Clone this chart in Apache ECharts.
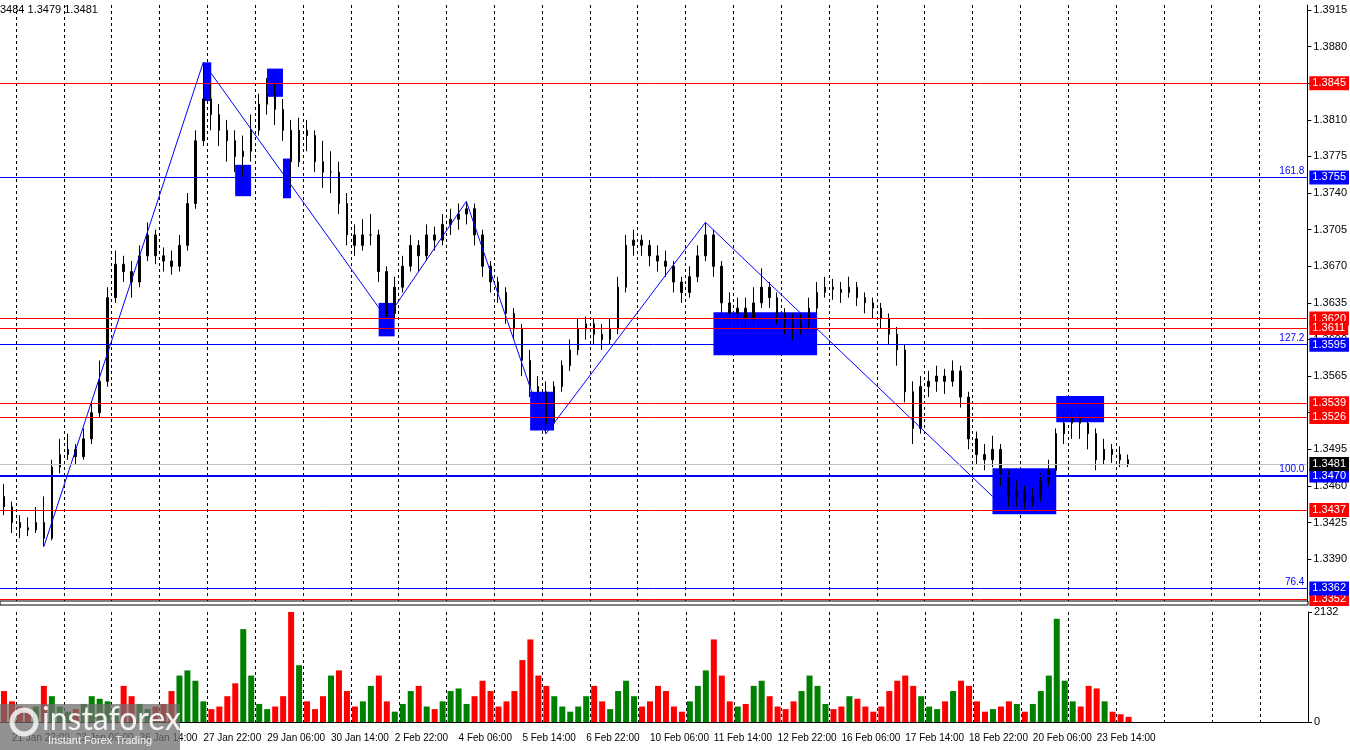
<!DOCTYPE html>
<html>
<head>
<meta charset="utf-8">
<script src="https://cdn.jsdelivr.net/npm/echarts@6/dist/echarts.min.js"></script>
<style>
  html, body { margin: 0; padding: 0; background: #fff; }
  #chart { width: 1350px; height: 750px; }
</style>
</head>
<body>
<div id="chart"></div>
<script>
// closes / highs / lows in pips (1.xxxx)
var closes = [3440,3425,3420,3418,3425,3410,3478,3490,3495,3488,3505,3530,3560,3640,3672,3665,3655,3680,3700,3680,
  3675,3670,3690,3730,3790,3830,3815,3800,3790,3775,3780,3800,3825,3835,3820,3800,3770,3800,3795,3770,
  3760,3760,3730,3700,3690,3700,3700,3665,3625,3650,3670,3690,3680,3700,3695,3710,3715,3720,3725,3700,
  3670,3655,3645,3625,3610,3580,3555,3550,3520,3555,3575,3590,3610,3615,3605,3600,3610,3650,3690,3695,
  3690,3680,3675,3670,3655,3645,3660,3680,3700,3670,3635,3625,3630,3620,3635,3650,3640,3625,3615,3610,
  3615,3630,3645,3650,3648,3645,3650,3640,3635,3630,3620,3605,3590,3550,3515,3555,3560,3565,3560,3570,
  3545,3505,3490,3485,3495,3470,3450,3455,3445,3450,3465,3475,3510,3520,3525,3520,3510,3485,3495,3490,
  3485,3481];
var highs = [3462,3445,3432,3430,3440,3450,3485,3505,3510,3500,3515,3540,3580,3650,3685,3680,3675,3690,3712,3705,
  3688,3685,3700,3740,3800,3865,3845,3825,3810,3800,3795,3815,3835,3850,3845,3830,3810,3812,3810,3800,
  3790,3780,3770,3740,3710,3715,3720,3705,3670,3660,3680,3700,3695,3710,3708,3720,3725,3730,3732,3730,
  3705,3675,3660,3650,3630,3615,3590,3565,3560,3560,3580,3600,3620,3622,3620,3615,3620,3660,3700,3705,
  3700,3695,3690,3685,3675,3660,3670,3690,3712,3705,3675,3645,3640,3640,3650,3668,3655,3645,3630,3625,
  3625,3640,3655,3660,3658,3655,3660,3655,3645,3640,3635,3625,3612,3595,3560,3565,3570,3575,3572,3580,
  3575,3550,3512,3500,3508,3500,3475,3465,3460,3458,3472,3485,3515,3530,3532,3530,3525,3515,3505,3500,
  3498,3490];
var lows = [3432,3415,3410,3412,3415,3402,3408,3472,3485,3480,3485,3500,3525,3555,3635,3655,3640,3650,3675,3672,
  3665,3662,3665,3685,3725,3785,3800,3785,3770,3760,3755,3770,3795,3815,3805,3790,3745,3765,3780,3760,
  3745,3740,3720,3690,3680,3685,3690,3655,3620,3620,3645,3665,3665,3675,3685,3690,3700,3705,3710,3690,
  3660,3645,3635,3615,3600,3565,3545,3540,3510,3515,3550,3570,3585,3600,3595,3590,3595,3605,3645,3680,
  3680,3670,3665,3660,3645,3635,3640,3655,3675,3660,3625,3615,3615,3610,3615,3630,3630,3615,3605,3600,
  3605,3610,3625,3640,3638,3635,3640,3632,3625,3620,3610,3595,3575,3540,3500,3510,3545,3550,3548,3555,
  3535,3495,3480,3475,3478,3460,3440,3440,3438,3440,3445,3460,3470,3500,3505,3505,3495,3475,3480,3482,
  3478,3478];
var firstOpen = 3450;
var volumes = [600,400,300,200,300,700,500,300,200,250,350,500,450,400,300,700,500,350,250,300,
  350,600,900,1000,800,400,250,300,500,750,1800,900,350,250,300,500,2132,1100,400,250,
  500,900,1000,600,300,400,700,900,400,200,350,600,700,300,250,400,600,650,350,500,
  800,600,300,400,600,1200,1600,900,700,500,300,200,300,500,700,400,250,600,800,500,
  300,400,700,600,300,200,400,700,1000,1600,900,400,300,350,700,800,500,300,250,400,
  600,900,700,350,250,300,500,450,300,200,300,600,800,900,700,500,300,250,400,600,
  800,700,400,200,250,300,400,350,200,350,600,900,2000,800,400,300,700,650,400,200,
  150,100];
var timeLabels = ['21 Jan 22:00','23 Jan 06:00','26 Jan 14:00','27 Jan 22:00','29 Jan 06:00','30 Jan 14:00',
  '2 Feb 22:00','4 Feb 06:00','5 Feb 14:00','6 Feb 22:00','10 Feb 06:00','11 Feb 14:00','12 Feb 22:00',
  '16 Feb 06:00','17 Feb 14:00','18 Feb 22:00','20 Feb 06:00','23 Feb 14:00'];
var priceTicks = [1.3915,1.3880,1.3845,1.3810,1.3775,1.3740,1.3705,1.3670,1.3635,1.3600,1.3565,1.3530,1.3495,1.3460,1.3425,1.3390];
// zigzag pivots [bar index, price]
var zigzag = [[5,1.3402],[25,1.3865],[48,1.3620],[58,1.3732],[68,1.3510],[88,1.3712],[124,1.3450]];
// blue zones [fromBar, toBar, top, bottom]
var zones = [[25,26,1.3865,1.3828],[29,31,1.3767,1.3737],[33,35,1.3859,1.3832],[35,36,1.3773,1.3735],
  [47,49,1.3635,1.3603],[66,69,1.3550,1.3513],[89,102,1.3626,1.3585],[124,132,1.3477,1.3433],[132,138,1.3546,1.3521]];
var redLevels = [1.3845,1.3620,1.3611,1.3539,1.3526,1.3437,1.3352];
var blueLevels = [1.3755,1.3595,1.3470,1.3362];
var fibLabels = [['161.8',1.3755],['127.2',1.3595],['100.0',1.3470],['76.4',1.3362]];
var lastPrice = 1.3481;

var FONT = 'Liberation Sans';
var N = 164;
var cats = [];
for (var i = 0; i < N; i++) cats.push(String(i));
var p = function (v) { return +(1 + v / 10000).toFixed(4); };

var ohlc = [], vol = [];
for (var i = 0; i < closes.length; i++) {
  var o = i === 0 ? firstOpen : closes[i - 1];
  ohlc.push([p(o), p(closes[i]), p(lows[i]), p(highs[i])]);
  vol.push({ value: volumes[i], itemStyle: { color: closes[i] >= o ? '#008000' : '#ff0000' } });
}

var boxLabel = function (bg, v) {
  return { show: true, position: 'end', distance: 2, formatter: v.toFixed(4),
    color: '#fff', backgroundColor: bg, padding: [2, 3, 1, 3], fontSize: 11, fontFamily: FONT };
};
var lines = [];
redLevels.forEach(function (v) { lines.push({ yAxis: v, lineStyle: { color: '#ff0000', width: 1, type: 'solid' }, label: boxLabel('#ff0000', v) }); });
blueLevels.forEach(function (v) { lines.push({ yAxis: v, lineStyle: { color: '#0000ff', width: v === 1.3470 ? 2 : 1, type: 'solid' }, label: boxLabel('#0000ff', v) }); });
lines.push({ yAxis: lastPrice, lineStyle: { color: '#c0c0c0', width: 1, type: 'solid' }, label: boxLabel('#000', lastPrice) });
fibLabels.forEach(function (f) {
  lines.push({ yAxis: f[1], lineStyle: { color: 'rgba(0,0,0,0)', width: 1 },
    label: { show: true, position: 'insideEndTop', formatter: f[0], color: '#0000ff', fontSize: 10, distance: [3, 1], fontFamily: FONT } });
});

var areas = zones.map(function (z) { return [{ xAxis: z[0], yAxis: z[2] }, { xAxis: z[1], yAxis: z[3] }]; });

var chart = echarts.init(document.getElementById('chart'));
chart.setOption({
  animation: false,
  backgroundColor: '#fff',
  textStyle: { fontFamily: FONT },
  grid: [
    { left: 0, right: 42, top: 5, height: 596 },
    { left: 0, right: 42, top: 612, height: 110 }
  ],
  xAxis: [
    { type: 'category', gridIndex: 0, data: cats, boundaryGap: true,
      axisLine: { show: false }, axisTick: { show: false }, axisLabel: { show: false },
      splitLine: { show: true, interval: function (i) { return (i - 2) % 6 === 0; }, lineStyle: { color: '#000', type: [3, 3], width: 1 } } },
    { type: 'category', gridIndex: 1, data: cats, boundaryGap: true,
      axisLine: { show: true, lineStyle: { color: '#000' } }, axisTick: { show: false },
      axisLabel: { interval: function (i) { return (i - 1) % 8 === 0; }, formatter: function (v, i) { return timeLabels[(i - 1) / 8] || ''; },
        align: 'left', color: '#000', fontSize: 10, margin: 11, fontFamily: FONT },
      splitLine: { show: true, interval: function (i) { return (i - 2) % 6 === 0; }, lineStyle: { color: '#000', type: [3, 3], width: 1 } } }
  ],
  yAxis: [
    { type: 'value', gridIndex: 0, position: 'right', min: 1.3350, max: 1.39198,
      axisLine: { show: true, lineStyle: { color: '#000' } },
      axisTick: { show: true, customValues: priceTicks, length: 4, lineStyle: { color: '#000' } },
      axisLabel: { customValues: priceTicks, formatter: function (v) { return v.toFixed(4); }, color: '#000', fontSize: 11, margin: 6, fontFamily: FONT },
      splitLine: { show: false } },
    { type: 'value', gridIndex: 1, position: 'right', min: 0, max: 2132,
      axisLine: { show: true, lineStyle: { color: '#000' } },
      axisTick: { show: true, customValues: [0, 2132], length: 4, lineStyle: { color: '#000' } },
      axisLabel: { customValues: [0, 2132], formatter: function (v) { return String(v); }, color: '#000', fontSize: 11, margin: 6, fontFamily: FONT },
      splitLine: { show: false } }
  ],
  series: [
    { type: 'candlestick', xAxisIndex: 0, yAxisIndex: 0, data: ohlc, barWidth: 2,
      itemStyle: { color: '#000', color0: '#000', borderColor: '#000', borderColor0: '#000', borderWidth: 1 } },
    { type: 'line', xAxisIndex: 0, yAxisIndex: 0, data: zigzag, symbol: 'none', lineStyle: { color: '#0000ff', width: 1 },
      markArea: { silent: true, itemStyle: { color: '#0000ff', opacity: 1 }, data: areas },
      markLine: { silent: true, symbol: 'none', precision: 4, data: lines } },
    { type: 'bar', xAxisIndex: 1, yAxisIndex: 1, data: vol, barWidth: 6 }
  ],
  graphic: [
    { type: 'text', left: 0, top: 4, style: { text: '3484 1.3479 1.3481', fontSize: 11, fontFamily: FONT, fill: '#000' } },
    { type: 'rect', shape: { x: 0, y: 601, width: 1308, height: 4 }, style: { fill: '#fff', stroke: '#000', lineWidth: 1 } },
    { type: 'rect', z: 100, shape: { x: 0, y: 704, width: 180, height: 46 }, style: { fill: 'rgba(110,110,110,0.75)' } },
    { type: 'circle', z: 101, shape: { cx: 24, cy: 722, r: 12 }, style: { fill: 'none', stroke: 'rgba(255,255,255,0.8)', lineWidth: 5 } },
    { type: 'text', z: 101, x: 42, y: 704, style: { text: 'instaforex', fontSize: 32, fontFamily: 'Lato', fill: 'rgba(255,255,255,0.9)' } },
    { type: 'text', z: 101, x: 48, y: 735, style: { text: 'Instant Forex Trading', fontSize: 11, fontFamily: FONT, fill: 'rgba(255,255,255,0.9)' } }
  ]
});
</script>
</body>
</html>
